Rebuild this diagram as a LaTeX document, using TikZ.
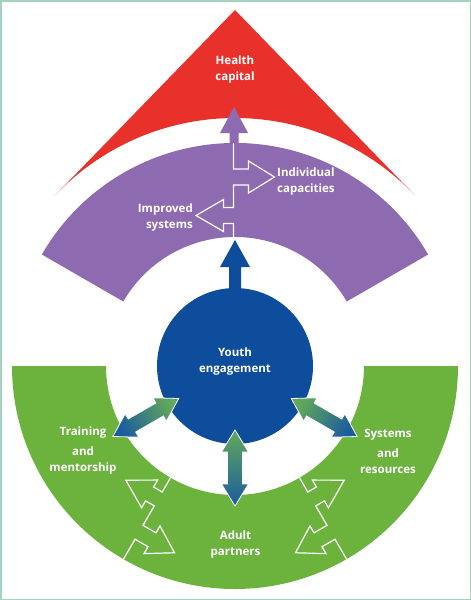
\documentclass[tikz,border=0pt]{standalone}
\usepackage{fontspec}
\setmainfont{Open Sans}
\usetikzlibrary{calc,shadings}
\definecolor{redc}{HTML}{E8312B}
\definecolor{purplec}{HTML}{8E6BB1}
\definecolor{bluec}{HTML}{0E4D9B}
\definecolor{greenc}{HTML}{6CB33E}
\definecolor{bordc}{HTML}{A5D3BF}
\definecolor{agreen}{HTML}{62A85A}
\definecolor{ablue}{HTML}{1A5C9E}
\newcommand\zigpath[4]{%
 \draw[zig] (#1) -- ($(#1)+(#2:16.5)$) -- ($(#1)+(#2:16.5)+(#3:-10)$)
  -- ($(#1)+(#2:8.5)+(#3:-10)$) -- ($(#1)+(#2:24.5)+(#3:-37.5)$)
  -- ($(#1)+(#2:40.5)+(#3:-10)$) -- ($(#1)+(#2:32.5)+(#3:-10)$)
  -- ($(#1)+(#2:32.5)$) -- ($(#1)+(#2:55)$) -- ($(#1)+(#2:55)+(#3:15)$)
  -- ($(#1)+(#2:47)+(#3:15)$) -- ($(#1)+(#2:63)+(#3:41)$)
  -- ($(#1)+(#2:79)+(#3:15)$) -- ($(#1)+(#2:71)+(#3:15)$)
  -- ($(#1)+(#2:71)$) -- ($(#1)+(#2:#4)$);}
\newcommand\dblarrow[4]{%
 \shadedraw[#4, draw=white, line width=0.8] (#1)
  -- ($(#1)+(#2:22)+(#3:13.5)$) -- ($(#1)+(#2:22)+(#3:7.5)$)
  -- ($(#1)+(#2:54)+(#3:7.5)$) -- ($(#1)+(#2:54)+(#3:13.5)$)
  -- ($(#1)+(#2:76)$)
  -- ($(#1)+(#2:54)+(#3:-13.5)$) -- ($(#1)+(#2:54)+(#3:-7.5)$)
  -- ($(#1)+(#2:22)+(#3:-7.5)$) -- ($(#1)+(#2:22)+(#3:-13.5)$) -- cycle;}
\begin{document}
\begin{tikzpicture}[x=1pt,y=-1pt,
  lbl/.style={text=white, font=\bfseries\fontsize{11.5}{16}\selectfont, inner sep=0pt},
  zig/.style={white, line width=1.2}]
\useasboundingbox (0,0) rectangle (471,600);
\fill[white] (0,0) rectangle (471,600);
\draw[bordc, line width=1.5] (0.75,0.75) rectangle (470.25,599.25);
\coordinate (c) at (235,366);
% red health capital
\coordinate (apex) at (235,10);
\fill[redc] (apex) -- ($(c)+(316.5:248)$) arc[start angle=316.5, end angle=223.5, radius=248] -- cycle;
% purple band
\fill[purplec] ($(c)+(210:223)$) arc[start angle=210, end angle=330, radius=223]
  -- ($(c)+(330:129)$) arc[start angle=330, end angle=210, radius=129] -- cycle;
% green band
\fill[greenc] ($(c)+(0:223)$) arc[start angle=0, end angle=180, radius=223]
  -- ($(c)+(180:129)$) arc[start angle=180, end angle=0, radius=129] -- cycle;
% purple arrow to health capital
\coordinate (ptip) at (234,107);
\fill[purplec] (ptip) -- (248,133) -- (238.5,133) -- (238.5,146) -- (229.5,146) -- (229.5,133) -- (220,133) -- cycle;
% youth circle
\node[circle, fill=bluec, minimum size=156pt, inner sep=0pt] (yc) at (c) {};
\coordinate (btip) at (235,240);
\fill[bluec] (btip) -- (250,267) -- (241,267) -- (241,295) -- (229,295) -- (229,267) -- (220,267) -- cycle;
% zigzags
\coordinate (pz) at (233.5,240);
\zigpath{pz}{270}{0}{97}
\coordinate (gl) at ($(c)+(120:129)$);
\zigpath{gl}{120}{30}{94}
\coordinate (gr) at ($(c)+(60:129)$);
\zigpath{gr}{60}{150}{94}
% double arrows
\coordinate (dl) at ($(c)+(150:65)$);
\coordinate (db) at ($(c)+(90:64)$);
\coordinate (dr) at ($(c)+(30:65)$);
\dblarrow{dl}{150}{240}{top color=agreen, bottom color=ablue, shading angle=-60}
\dblarrow{db}{90}{0}{top color=agreen, bottom color=ablue}
\dblarrow{dr}{30}{120}{top color=agreen, bottom color=ablue, shading angle=60}
% labels
\node[lbl, align=center] (hc) at (235,70) {Health\\capital};
\node[lbl, align=left, anchor=west] (ic) at (277,182) {Individual\\capacities};
\node[lbl, align=right, anchor=east] (is) at (193,218) {Improved\\systems};
\node[lbl, align=center] (ye) at (235,362) {Youth\\engagement};
\node[lbl, align=center] (tm) at (83,451) {Training\\[4pt]and\\mentorship};
\node[lbl, align=center] (sr) at (388,451) {Systems\\[4pt]and\\resources};
\node[lbl, align=center] (ap) at (235.5,545) {Adult\\partners};
\end{tikzpicture}
\end{document}
